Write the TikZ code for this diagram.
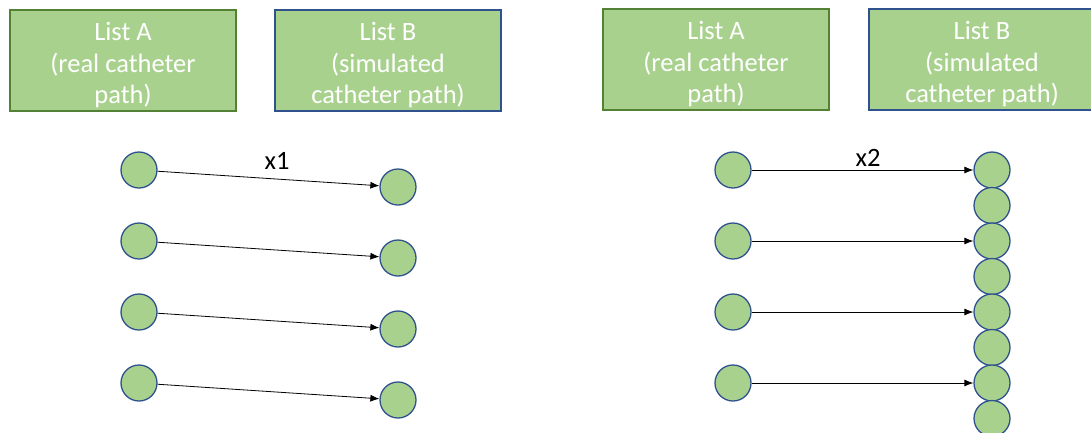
\documentclass[tikz,border=0pt]{standalone}
\usepackage{fontspec}
\setmainfont{Carlito}
\usetikzlibrary{positioning,arrows.meta}
\definecolor{ctGreen}{RGB}{169,209,142}
\definecolor{ctBlue}{RGB}{47,82,143}
\definecolor{ctDarkGreen}{RGB}{84,130,53}
\newcommand{\topgap}{\rule{0pt}{28pt}}

\begin{document}
\begin{tikzpicture}[x=1pt, y=-1pt, >={Latex[length=9pt,width=7pt]},
  pt/.style={circle, draw=ctBlue, line width=1.3pt, fill=ctGreen, minimum size=36pt, inner sep=0pt},
  listbox/.style={rectangle, fill=ctGreen, line width=1.3pt, minimum width=226pt, minimum height=101pt, inner ysep=0pt, text=white, align=center, font=\fontsize{26.5}{31.5}\selectfont},
  lbl/.style={font=\fontsize{26.5}{30}\selectfont}]
  \useasboundingbox (0,0) rectangle (1091,432);
  \node[listbox, draw=ctDarkGreen] (la1) at (123,60.5) {\topgap List A\\(real catheter\\path)};
  \node[listbox, draw=ctBlue] (lb1) at (388,60.5) {\topgap List B\\(simulated\\catheter path)};
  \node[listbox, draw=ctDarkGreen] (la2) at (716,59.5) {\topgap List A\\(real catheter\\path)};
  \node[listbox, draw=ctBlue] (lb2) at (982,59.5) {\topgap List B\\(simulated\\catheter path)};
  \node[pt] (a1) at (139,170) {};
  \node[pt] (a2) at (139,241) {};
  \node[pt] (a3) at (139,312) {};
  \node[pt] (a4) at (139,383) {};
  \node[pt] (b1) at (398,187) {};
  \node[pt] (b2) at (398,258) {};
  \node[pt] (b3) at (398,329) {};
  \node[pt] (b4) at (398,400) {};
  \node[pt] (c1) at (733,170) {};
  \node[pt] (c2) at (733,241) {};
  \node[pt] (c3) at (733,312) {};
  \node[pt] (c4) at (733,383) {};
  \node[pt] (d1) at (992,170) {};
  \node[pt] (e1) at (992,205.5) {};
  \node[pt] (d2) at (992,241) {};
  \node[pt] (e2) at (992,276.5) {};
  \node[pt] (d3) at (992,312) {};
  \node[pt] (e3) at (992,347.5) {};
  \node[pt] (d4) at (992,383) {};
  \node[pt] (e4) at (992,418.5) {};
  \node[lbl] (x1) at (277,161) {x1};
  \node[lbl] (x2) at (868,158) {x2};
  \draw[->, line width=0.8pt] (a1) -- (b1);
  \draw[->, line width=0.8pt] (a2) -- (b2);
  \draw[->, line width=0.8pt] (a3) -- (b3);
  \draw[->, line width=0.8pt] (a4) -- (b4);
  \draw[->, line width=0.8pt] (c1) -- (d1);
  \draw[->, line width=0.8pt] (c2) -- (d2);
  \draw[->, line width=0.8pt] (c3) -- (d3);
  \draw[->, line width=0.8pt] (c4) -- (d4);
\end{tikzpicture}
\end{document}
